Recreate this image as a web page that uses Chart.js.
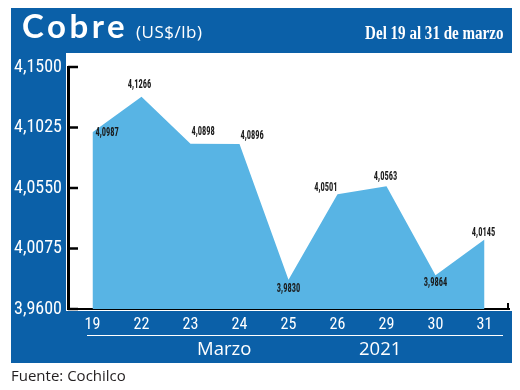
<!DOCTYPE html>
<html>
<head>
<meta charset="utf-8">
<script src="https://cdn.jsdelivr.net/npm/chart.js@4.4.0/dist/chart.umd.min.js"></script>
<style>
  html, body { margin: 0; padding: 0; background: #fff; }
  #wrap { position: relative; width: 520px; height: 390px; overflow: hidden; font-family: "Open Sans", sans-serif; }
  .blue { position: absolute; background: #0b60a8; }
  #barTop { left: 11px; top: 8px; width: 501px; height: 45px; }
  #barLeft { left: 11px; top: 53px; width: 55px; height: 310px; }
  #barBottom { left: 11px; top: 311px; width: 501px; height: 52px; }
  canvas { position: absolute; left: 0; top: 0; }
  .t { position: absolute; color: #fff; white-space: nowrap; line-height: 1; z-index: 2; }
  #title { left: 22px; top: 9px; font-family: Lato, sans-serif; font-weight: bold; font-size: 33px; letter-spacing: 3.5px; }
  #unit { left: 136px; top: 23px; font-size: 17px; letter-spacing: 0.5px; }
  #range { right: 17px; top: 24px; font-family: "Liberation Serif", serif; font-weight: bold; font-size: 18px; transform-origin: right center; }
  #month { left: 197px; top: 339px; font-size: 18.5px; }
  #year { left: 359px; top: 339px; font-size: 18.5px; }
  #rule { position: absolute; left: 87px; top: 334.5px; width: 416px; height: 1.5px; background: #fff; z-index: 2; }
  #source { left: 11px; top: 368px; font-size: 15px; color: #231f20; }
</style>
</head>
<body>
<div id="wrap">
  <div class="blue" id="barTop"></div>
  <div class="blue" id="barLeft"></div>
  <div class="blue" id="barBottom"></div>
  <canvas id="myChart" width="520" height="390"></canvas>
  <div class="t" id="title">Cobre</div>
  <div class="t" id="unit">(US$/lb)</div>
  <div class="t" id="range">Del 19 al 31 de marzo</div>
  <div id="rule"></div>
  <div class="t" id="month">Marzo</div>
  <div class="t" id="year">2021</div>
  <div class="t" id="source">Fuente: Cochilco</div>
</div>
<script>
// Datos: precio del cobre (US$/lb), 19 al 31 de marzo 2021
const dias = ['19', '22', '23', '24', '25', '26', '29', '30', '31'];
const precios = [4.0987, 4.1266, 4.0898, 4.0896, 3.9830, 4.0501, 4.0563, 3.9864, 4.0145];
const marcasY = [3.9600, 4.0075, 4.0550, 4.1025, 4.1500];

// el texto de la fecha es condensado, se ajusta al ancho del original
const rango = document.getElementById('range');
rango.style.transform = 'scaleX(' + (138 / rango.offsetWidth) + ')';

const coma = v => v.toFixed(4).replace('.', ',');

// posicion de cada etiqueta respecto a su punto
const ubicaEtiquetas = [
    { dx: 3, dy: 1, align: 'left' },
    { dx: -2, dy: -12, align: 'center' },
    { dx: 1, dy: -12, align: 'left' },
    { dx: 1, dy: -8, align: 'left' },
    { dx: 0, dy: 9, align: 'center' },
    { dx: 0, dy: -6, align: 'right' },
    { dx: -1, dy: -9, align: 'center' },
    { dx: 0, dy: 8, align: 'center' },
    { dx: -1, dy: -7, align: 'center' }
];

const etiquetas = {
    id: 'etiquetas',
    afterDraw(chart) {
        const ctx = chart.ctx;
        const area = chart.chartArea;
        const y = chart.scales.y;

        // marcas hacia adentro del eje Y
        ctx.save();
        ctx.strokeStyle = '#000';
        ctx.lineWidth = 2.5;
        marcasY.forEach(v => {
            const py = y.getPixelForValue(v);
            ctx.beginPath();
            ctx.moveTo(area.left, py);
            ctx.lineTo(area.left + 10, py);
            ctx.stroke();
        });
        // remate del eje X
        ctx.lineWidth = 2;
        ctx.beginPath();
        ctx.moveTo(area.right - 1, area.bottom);
        ctx.lineTo(area.right - 1, area.bottom - 6);
        ctx.stroke();

        // valores sobre cada punto (letra condensada)
        const meta = chart.getDatasetMeta(0);
        ctx.fillStyle = '#1a1a1a';
        ctx.font = 'bold 12px "Roboto Condensed", sans-serif';
        ctx.textBaseline = 'middle';
        meta.data.forEach((pt, i) => {
            const u = ubicaEtiquetas[i];
            ctx.save();
            ctx.translate(pt.x + u.dx, pt.y + u.dy);
            ctx.scale(0.7, 1);
            ctx.textAlign = u.align;
            ctx.fillText(coma(precios[i]), 0, 0);
            ctx.restore();
        });
        ctx.restore();
    }
};

new Chart(document.getElementById('myChart').getContext('2d'), {
    type: 'line',
    data: {
        labels: dias,
        datasets: [{
            data: precios,
            fill: 'start',
            backgroundColor: '#58b4e4',
            borderWidth: 0,
            pointRadius: 0,
            tension: 0
        }]
    },
    options: {
        responsive: false,
        animation: false,
        layout: { padding: { top: 67, right: 11, left: 0, bottom: 0 } },
        plugins: {
            legend: { display: false },
            tooltip: { enabled: false }
        },
        scales: {
            x: {
                offset: true,
                z: 1,
                grid: { display: false, drawTicks: false },
                border: { display: true, color: '#000', width: 2 },
                ticks: {
                    color: '#fff',
                    padding: 6,
                    font: { family: '"Roboto Condensed", "Open Sans", sans-serif', size: 16 }
                },
                afterFit: s => { s.height = 81; }
            },
            y: {
                min: 3.96,
                max: 4.15,
                z: 1,
                grid: { display: false, drawTicks: false },
                border: { display: true, color: '#000', width: 3 },
                afterBuildTicks: s => { s.ticks = marcasY.map(v => ({ value: v })); },
                ticks: {
                    color: '#fff',
                    padding: 6,
                    font: { family: '"Roboto Condensed", "Open Sans", sans-serif', size: 18 },
                    callback: v => coma(v)
                },
                afterFit: s => { s.width = 68; }
            }
        }
    },
    plugins: [etiquetas]
});
</script>
</body>
</html>
